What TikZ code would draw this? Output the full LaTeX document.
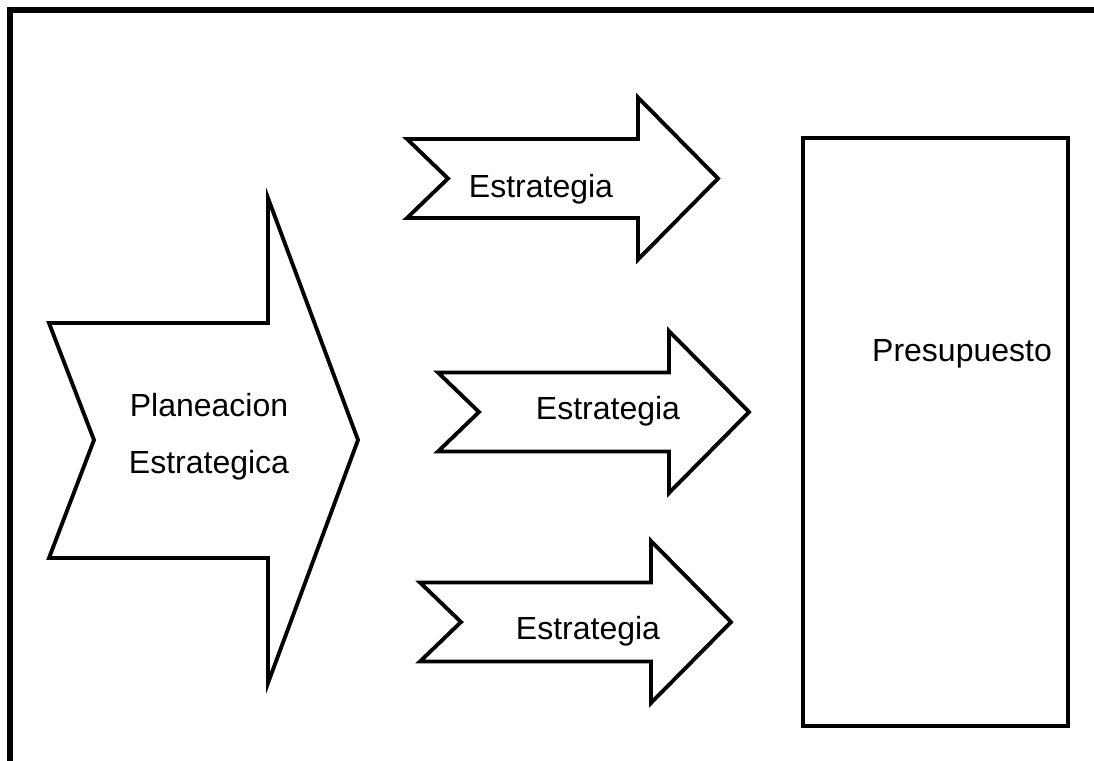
\documentclass[tikz,border=0pt]{standalone}
\usepackage{fontspec}
\setmainfont{Liberation Sans}

\begin{document}
\begin{tikzpicture}[x=0.75pt,y=-0.75pt,
    frame line/.style={draw=black, line width=3.8pt},
    box line/.style={draw=black, line width=3.4pt},
    arrow line/.style={draw=black, line width=2.9pt, line join=miter},
    label text/.style={font=\fontsize{24}{43}\selectfont, align=center}]

\useasboundingbox (0,0) rectangle (1094,760);

% Outer frame (runs off the page at right and bottom)
\draw[frame line] (10,770) -- (10,10) -- (1104,10);

% Big notched arrow
\draw[arrow line] (49,323) -- (268,323) -- (268,198) -- (358,440)
    -- (268,683) -- (268,558) -- (49,558) -- (94,440) -- cycle;
\node[label text] (plan) at (209,437) {Planeacion\\Estrategica};

% Three strategy arrows: name / left x / centre y / text x / text y
\foreach \name/\lx/\cy/\tx/\ty in {top/407/178.5/541/189, mid/438/412/608/411, low/420/622/588/631} {
    \draw[arrow line] (\lx,\cy-39.5) -- (\lx+231,\cy-39.5) -- (\lx+231,\cy-81)
        -- (\lx+311,\cy) -- (\lx+231,\cy+81) -- (\lx+231,\cy+39.5)
        -- (\lx,\cy+39.5) -- (\lx+41,\cy) -- cycle;
    \node[label text] (strat-\name) at (\tx,\ty) {Estrategia};
}

% Budget box
\draw[box line] (803,138) rectangle (1068,726);
\node[label text] (budget) at (962,354) {Presupuesto};

\end{tikzpicture}
\end{document}
